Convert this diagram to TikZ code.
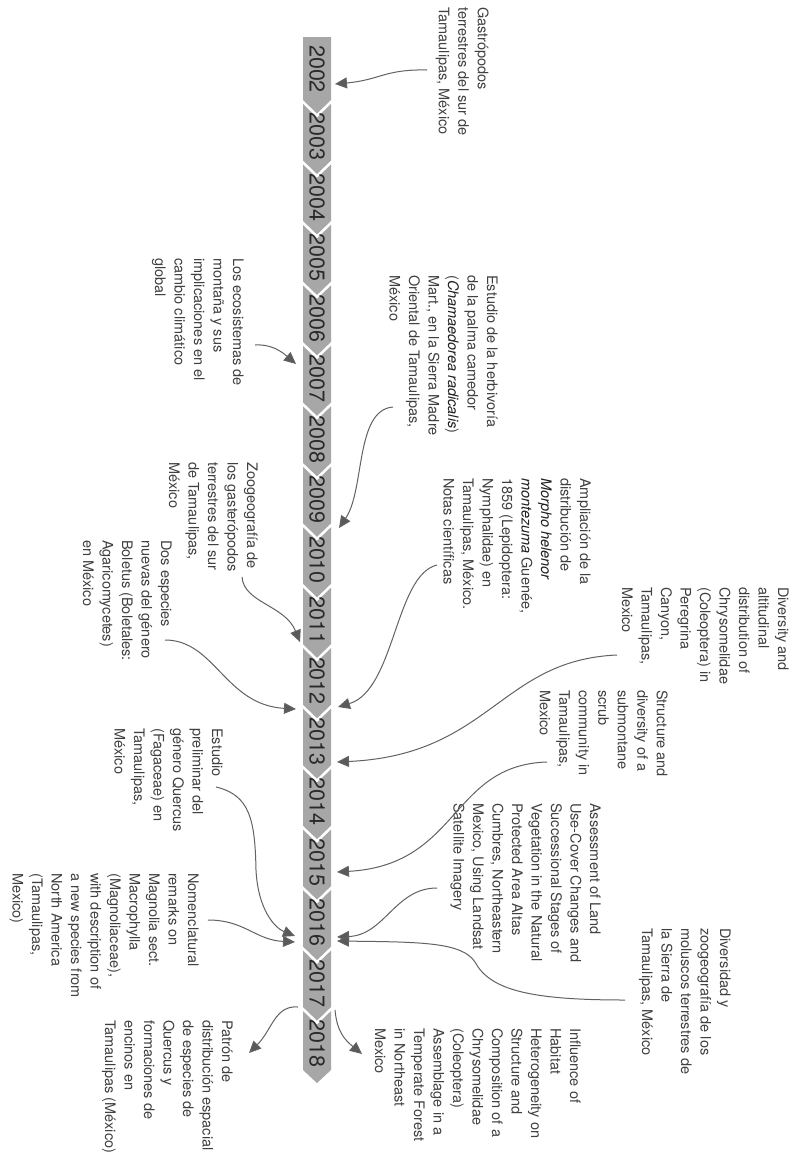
\documentclass[tikz,border=0pt]{standalone}
\usepackage{fontspec}
\setmainfont{TeX Gyre Heros}
\usetikzlibrary{arrows.meta}
\definecolor{bargray}{HTML}{A7A7A7}
\definecolor{txt}{HTML}{404040}
\definecolor{ittxt}{HTML}{1E1E1E}
\definecolor{yeartxt}{HTML}{2A2A2A}
\definecolor{linegray}{HTML}{626262}
\definecolor{headgray}{HTML}{5A5A5A}
\newcommand{\spn}[1]{\textcolor{ittxt}{\textit{#1}}}
\begin{document}
\begin{tikzpicture}[x=1pt,y=-1pt,
  lbl/.style={rotate=-90, anchor=north west, inner sep=0pt, align=left, text=txt, font=\fontsize{14.5}{19.5}\selectfont},
  yr/.style={rotate=-90, inner sep=0pt, text=yeartxt, font=\fontsize{21.5}{22}\selectfont},
  conn/.style={draw=linegray, line width=1pt, -{Triangle[length=12pt,width=11pt,fill=headgray]}},
  seg/.style={fill=bargray, draw=none}]
\useasboundingbox (0,0) rectangle (796,1160);
\fill[white] (0,0) rectangle (796,1160);
% ---- timeline bar
\fill[seg] (303,37) -- (331,37) -- (331,100) -- (317,113.5) -- (303,100) -- cycle;
\foreach \i in {1,...,15} {
  \pgfmathsetmacro\tp{100+60.47*(\i-1)}
  \pgfmathsetmacro\bt{100+60.47*\i}
  \fill[seg] (303,\tp+4) -- (317,\tp+17.5) -- (331,\tp+4) -- (331,\bt) -- (317,\bt+13.5) -- (303,\bt) -- cycle;
}
\pgfmathsetmacro\tp{100+60.47*15}
\fill[seg] (303,\tp+4) -- (317,\tp+17.5) -- (331,\tp+4) -- (331,1070) -- (317,1083) -- (303,1070) -- cycle;
\node[yr] (y2002) at (317,69) {2002};
\foreach \i in {1,...,16} {
  \pgfmathtruncatemacro\yy{2002+\i}
  \pgfmathsetmacro\cy{100+60.47*(\i-1)+36.7}
  \node[yr] (y\yy) at (317,\cy) {\yy};
}
% ---- texts right
\node[lbl] (gastro) at (489,7) {Gastrópodos\\terrestres del sur de\\Tamaulipas, México};
\node[lbl] (herbiv) at (498,275) {Estudio de la herbivoría\\de la palma camedor\\(\spn{Chamaedorea radicalis})\\Mart., en la Sierra Madre\\Oriental de Tamaulipas,\\México};
\node[lbl] (morpho) at (591,478) {Ampliación de la\\distribución de\\\spn{Morpho helenor}\\\spn{montezuma} Guenée,\\1859 (Lepidoptera:\\Nymphalidae) en\\Tamaulipas, México.\\Notas científicas};
\node[lbl] (chryso) at (789,587) {Diversity and\\altitudinal\\distribution of\\Chrysomelidae\\(Coleoptera) in\\Peregrina\\Canyon,\\Tamaulipas,\\Mexico};
\node[lbl] (scrub) at (668,690) {Structure and\\diversity of a\\submontane\\scrub\\community in\\Tamaulipas,\\Mexico};
\node[lbl] (landsat) at (601,803) {Assessment of Land\\Use-Cover Changes and\\Successional Stages of\\Vegetation in the Natural\\Protected Area Altas\\Cumbres, Northeastern\\Mexico, Using Landsat\\Satellite Imagery};
\node[lbl] (molus) at (731,928) {Diversidad y\\zoogeografía de los\\moluscos terrestres de\\la Sierra de\\Tamaulipas, México};
\node[lbl] (habitat) at (581,1028) {Influence of\\Habitat\\Heterogeneity on\\Structure and\\Composition of a\\Chrysomelidae\\(Coleoptera)\\Assemblage in a\\Temperate Forest\\in Northeast\\Mexico};
% ---- texts left
\node[lbl] (ecosis) at (244,258) {Los ecosistemas de\\montaña y sus\\implicaciones en el\\cambio climático\\global};
\node[lbl] (zoogeo) at (258,462) {Zoogeografía de\\los gasterópodos\\terrestres del sur\\de Tamaulipas,\\México};
\node[lbl] (boletus) at (172,540) {Dos especies\\nuevas del género\\Boletus (Boletales:\\Agaricomycetes)\\en México};
\node[lbl] (quercus) at (223,728) {Estudio\\preliminar del\\género Quercus\\(Fagaceae) en\\Tamaulipas,\\México};
\node[lbl] (magnol) at (199,873) {Nomenclatural\\remarks on\\Magnolia sect.\\Macrophylla\\(Magnoliaceae),\\with description of\\a new species from\\North America\\(Tamaulipas,\\Mexico)};
\node[lbl] (patron) at (233,1020) {Patrón de\\distribución espacial\\de especies de\\Quercus y\\formaciones de\\encinos en\\Tamaulipas (México)};
% ---- connector ends
\coordinate (s1) at (427,70);   \coordinate (e1) at (335,84);
\coordinate (s2) at (255,345);  \coordinate (e2) at (296,364);
\coordinate (s3) at (393,407);  \coordinate (e3) at (339,528);
\coordinate (s4) at (242,577);  \coordinate (e4) at (300,642);
\coordinate (s5) at (165,640);  \coordinate (e5) at (296,709);
\coordinate (s6) at (437,565);  \coordinate (e6) at (338,707);
\coordinate (s7) at (617,655);  \coordinate (e7) at (337,762);
\coordinate (s8) at (547,762);  \coordinate (e8) at (337,872);
\coordinate (s9) at (437,888);  \coordinate (e9) at (337,937);
\coordinate (s10) at (625,1000); \coordinate (e10) at (337,941);
\coordinate (s11) at (216,787); \coordinate (e11) at (295,936);
\coordinate (s12) at (208,920); \coordinate (e12) at (295,942);
\coordinate (s13) at (298,1007); \coordinate (e13) at (249,1053);
\coordinate (s14) at (335,1010); \coordinate (e14) at (362,1054);
% ---- connectors
\draw[conn] (s1) .. controls (385,69) and (380,80) .. (e1);
\draw[conn] (s2) .. controls (272,344) and (282,352) .. (e2);
\draw[conn] (s3) .. controls (355,410) and (365,490) .. (e3);
\draw[conn] (s4) .. controls (244,603) and (285,605) .. (e4);
\draw[conn] (s5) .. controls (215,640) and (225,705) .. (e5);
\draw[conn] (s6) .. controls (395,575) and (395,690) .. (e6);
\draw[conn] (s7) .. controls (500,660) and (490,755) .. (e7);
\draw[conn] (s8) .. controls (450,765) and (460,865) .. (e8);
\draw[conn] (s9) .. controls (395,888) and (385,935) .. (e9);
\draw[conn] (s10) .. controls (530,1000) and (490,990) .. (475,962) .. controls (462,942) and (420,942) .. (e10);
\draw[conn] (s11) .. controls (250,795) and (255,820) .. (256,870) .. controls (258,910) and (275,928) .. (e11);
\draw[conn] (s12) .. controls (245,920) and (255,940) .. (e12);
\draw[conn] (s13) .. controls (275,1005) and (272,1030) .. (e13);
\draw[conn] (s14) .. controls (337,1032) and (345,1040) .. (e14);
\end{tikzpicture}
\end{document}
